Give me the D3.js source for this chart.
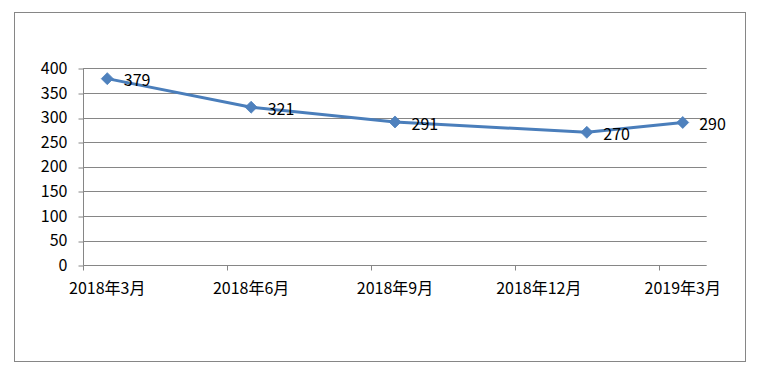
<!DOCTYPE html>
<html>
<head>
<meta charset="utf-8">
<script src="https://cdn.jsdelivr.net/npm/d3@7"></script>
<style>
  body { margin: 0; background: #fff; }
  text { font-family: "Noto Sans CJK SC", "Noto Sans", sans-serif; fill: #000; }
</style>
</head>
<body>
<div id="chart"></div>
<script>
// meses do eixo (eixo de datas, unidade base = mês)
const meses = ["2018-03","2018-04","2018-05","2018-06","2018-07","2018-08","2018-09",
               "2018-10","2018-11","2018-12","2019-01","2019-02","2019-03"];
// meses com rótulo / marca no eixo
const mesesMarcados = ["2018-03","2018-06","2018-09","2018-12","2019-03"];
// série
const datas = ["2018-03","2018-06","2018-09","2019-01","2019-03"];
const valores = [379, 321, 291, 270, 290];
const yTicks = [0, 50, 100, 150, 200, 250, 300, 350, 400];

const width = 760, height = 375;
const azul = "#4a7ebb";
const cinza = "#868686";

const svg = d3.select("#chart").append("svg")
    .attr("width", width)
    .attr("height", height);

// borda do gráfico
svg.append("rect")
    .attr("x", 14.5).attr("y", 12.5)
    .attr("width", 731).attr("height", 349)
    .attr("fill", "none")
    .attr("stroke", cinza)
    .attr("stroke-width", 1);

const x = d3.scaleBand().domain(meses).range([83.3, 706.7]).padding(0);
const y = d3.scaleLinear().domain([0, 400]).range([265.3, 68.3]);

// grade horizontal
svg.append("g")
    .selectAll("line")
    .data(yTicks)
    .join("line")
    .attr("x1", 83.3).attr("x2", 706.7)
    .attr("y1", d => Math.round(y(d)) + 0.5)
    .attr("y2", d => Math.round(y(d)) + 0.5)
    .attr("stroke", cinza);

// eixo y
const eixoY = svg.append("g")
    .attr("transform", "translate(83.5,0)")
    .call(d3.axisLeft(y).tickValues(yTicks).tickSize(5).tickPadding(11));
eixoY.select(".domain").attr("stroke", cinza).attr("d", `M0,${y(400)}V${y(0)}`);
eixoY.selectAll(".tick line").attr("stroke", cinza)
    .attr("transform", d => `translate(0,${Math.round(y(d)) + 0.5 - y(d)})`);
eixoY.selectAll(".tick text").attr("font-size", 16)
    .style("font-family", '"Noto Sans CJK SC", sans-serif');

// eixo x: marcas no início de cada trimestre, rótulos no centro do mês
const eixoX = svg.append("g");
eixoX.selectAll("line")
    .data(mesesMarcados)
    .join("line")
    .attr("x1", d => Math.round(x(d)) + 0.5)
    .attr("x2", d => Math.round(x(d)) + 0.5)
    .attr("y1", 265.5).attr("y2", 270.5)
    .attr("stroke", cinza);
eixoX.selectAll("text")
    .data(mesesMarcados)
    .join("text")
    .attr("x", d => x(d) + x.bandwidth() / 2)
    .attr("y", 288)
    .attr("dy", "0.35em")
    .attr("text-anchor", "middle")
    .attr("font-size", 16)
    .text(d => {
        const [a, m] = d.split("-");
        return `${a}年${+m}月`;
    });

const pontos = datas.map((d, i) => ({ data: d, valor: valores[i] }));
const cx = d => x(d.data) + x.bandwidth() / 2;

// linha
svg.append("path")
    .datum(pontos)
    .attr("fill", "none")
    .attr("stroke", azul)
    .attr("stroke-width", 3)
    .attr("stroke-linejoin", "round")
    .attr("d", d3.line().x(cx).y(d => y(d.valor)));

// marcadores (losango)
svg.append("g")
    .selectAll("path")
    .data(pontos)
    .join("path")
    .attr("transform", d => `translate(${cx(d)},${y(d.valor)})`)
    .attr("d", "M0,-6L6,0L0,6L-6,0Z")
    .attr("fill", "#4f81bd")
    .attr("stroke", "#4a7ebb")
    .attr("stroke-width", 0.75);

// rótulos de dados
svg.append("g")
    .selectAll("text")
    .data(pontos)
    .join("text")
    .attr("x", d => cx(d) + 16.5)
    .attr("y", d => y(d.valor) + 2)
    .attr("dy", "0.35em")
    .attr("font-size", 16)
    .text(d => d.valor);
</script>
</body>
</html>
